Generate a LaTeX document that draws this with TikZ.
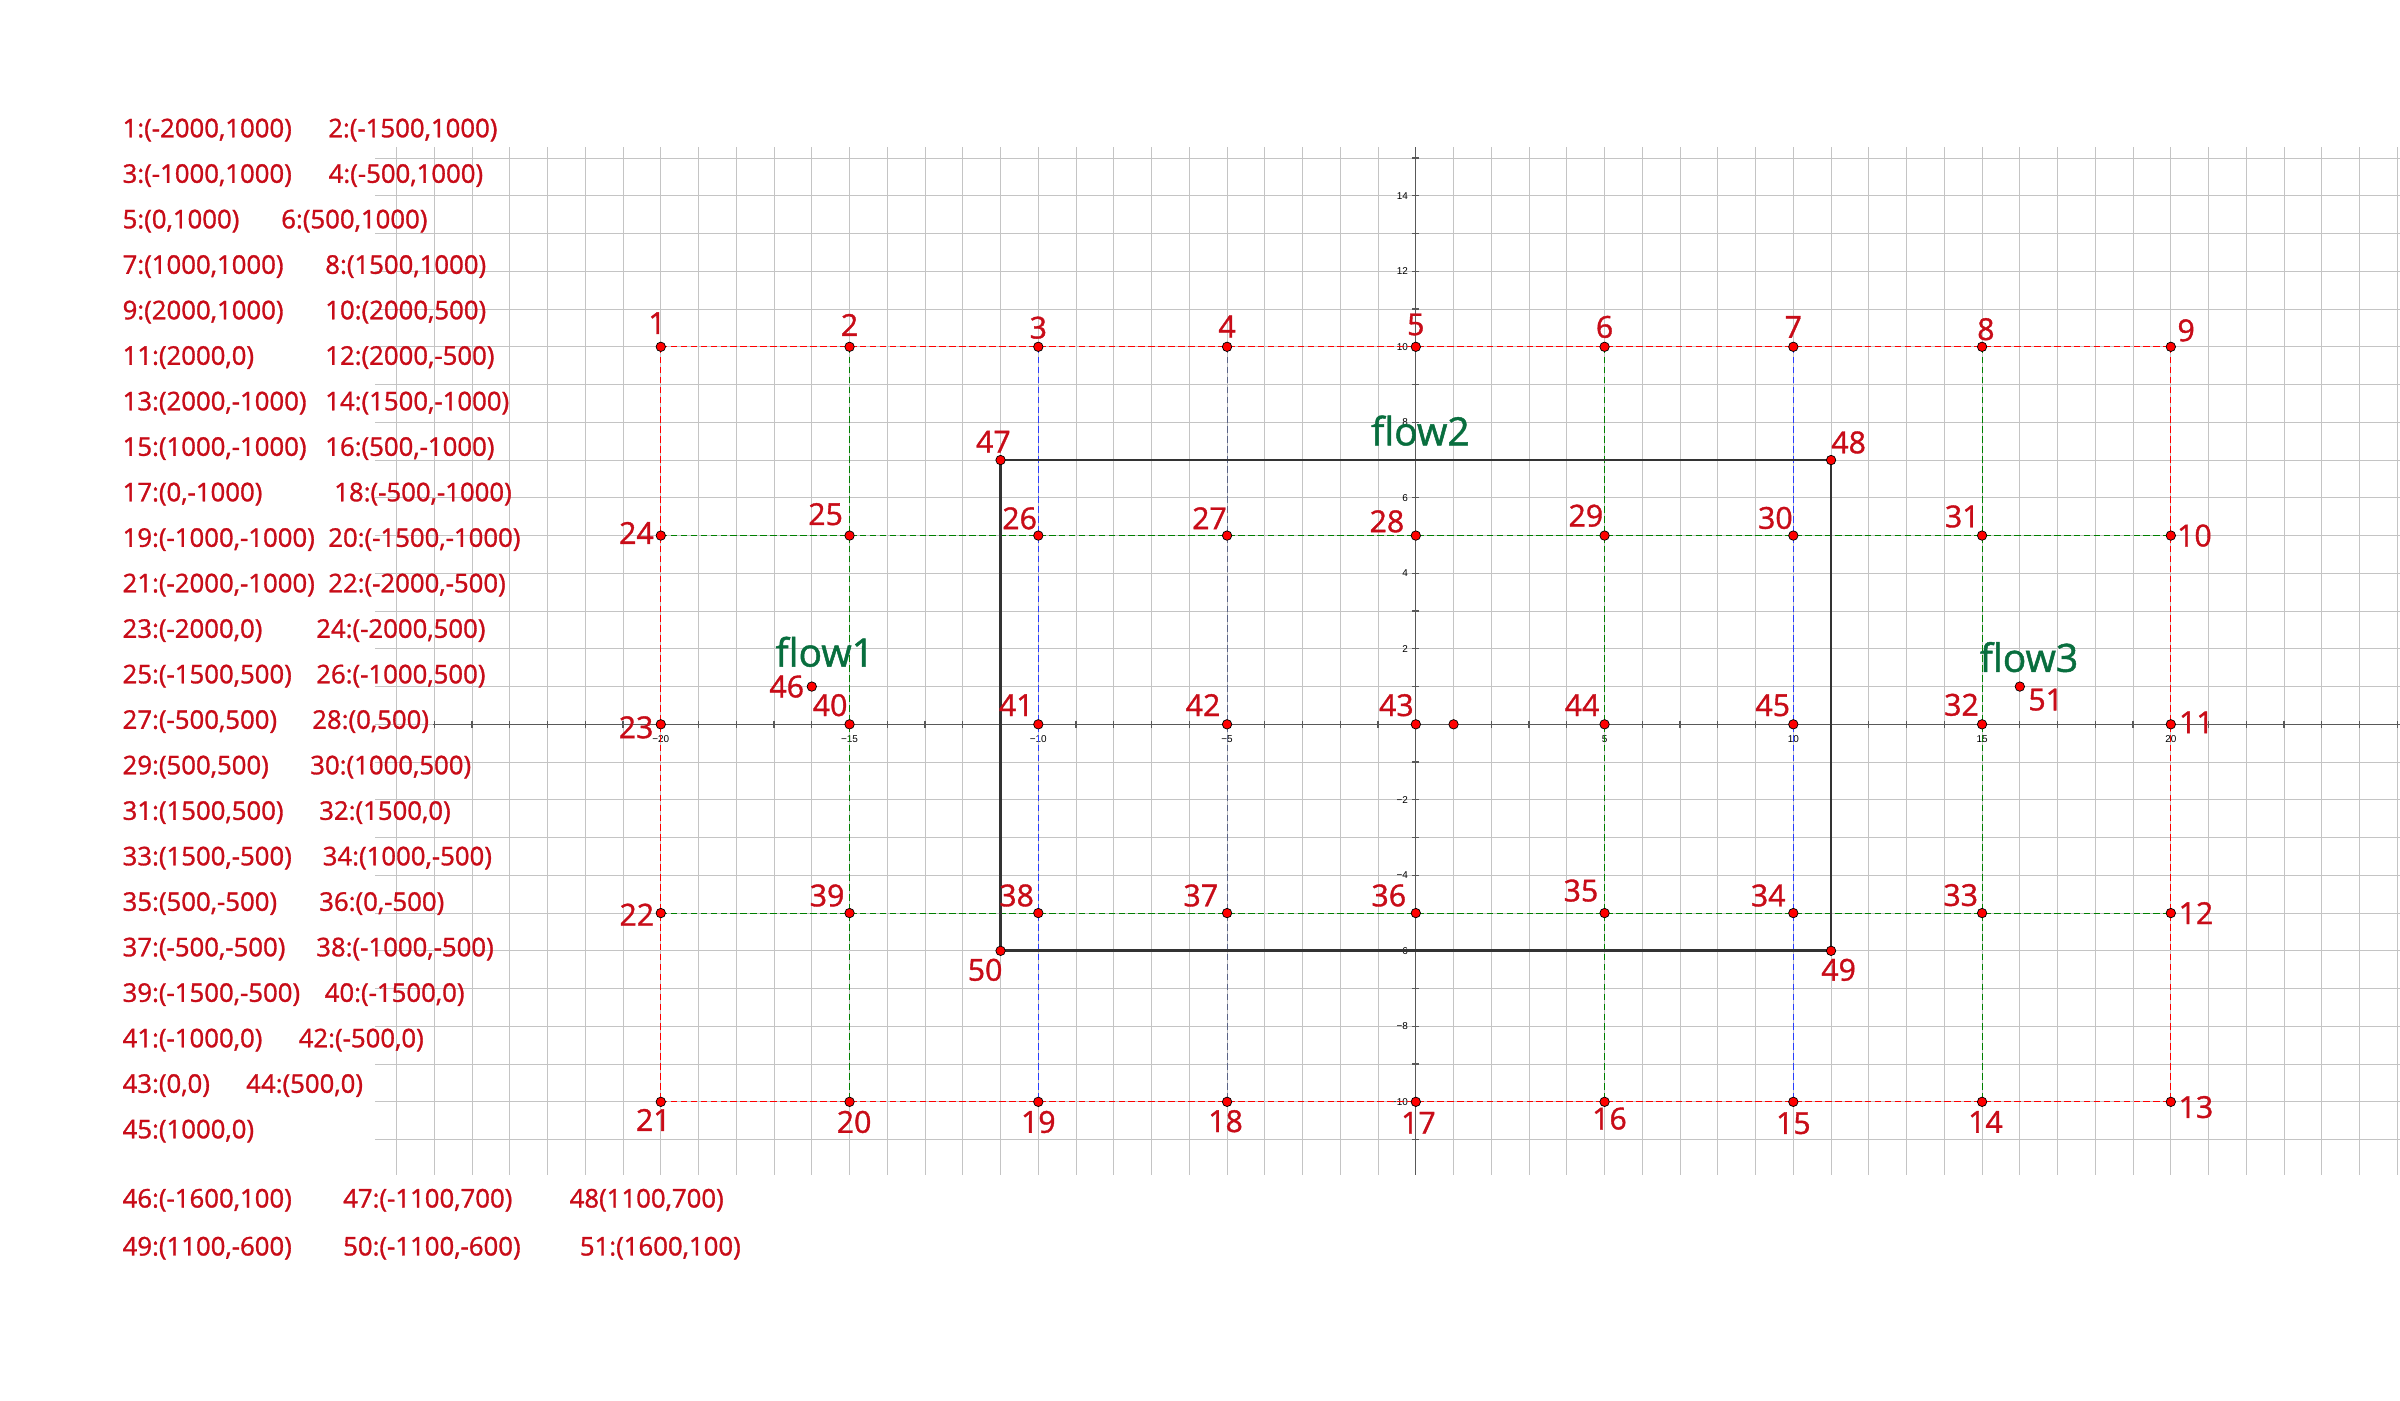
\documentclass[tikz,border=0pt]{standalone}
\usepackage{fontspec}
\setmainfont{Open Sans}
\newfontfamily\lblfont[FakeBold=1.2]{Open Sans}
\newfontfamily\tickfont{Liberation Sans}
\usetikzlibrary{calc}
\definecolor{lblred}{RGB}{200,12,24}
\definecolor{dotred}{RGB}{255,0,0}
\definecolor{flowgreen}{RGB}{8,110,62}
\definecolor{gridgray}{RGB}{196,196,196}
\definecolor{dred}{RGB}{255,0,0}
\definecolor{dgreen}{RGB}{0,128,0}
\definecolor{dblue}{RGB}{40,60,255}
\definecolor{dslate}{RGB}{90,100,135}
\tikzset{
  gridline/.style={draw=gridgray, line width=0.8pt},
  axisline/.style={draw=black!65, line width=0.9pt},
  reddash/.style={draw=dred, line width=0.8pt, dash pattern=on 5pt off 2.5pt},
  greendash/.style={draw=dgreen, line width=0.8pt, dash pattern=on 5pt off 2.5pt},
  bluedash/.style={draw=dblue, line width=0.8pt, dash pattern=on 5pt off 2.5pt},
  slatedash/.style={draw=dslate, line width=0.6pt, dash pattern=on 5pt off 2.5pt},
  rectline/.style={draw=black!80, line width=2pt},
  dot/.style={circle, fill=dotred, draw=black, line width=0.55pt, inner sep=0pt, minimum size=0.25cm},
  lbl/.style={text=lblred, font=\lblfont\fontsize{22.8}{27}\selectfont, inner sep=0pt},
  listtxt/.style={text=lblred, font=\lblfont\fontsize{19.4}{23}\selectfont, inner sep=0pt, anchor=base west},
  flowtxt/.style={text=flowgreen, font=\lblfont\fontsize{29.4}{35}\selectfont, inner sep=0pt, anchor=base west},
  ticklbl/.style={text=black, font=\tickfont\fontsize{7.5}{9}\selectfont, inner sep=0pt}
}
\begin{document}
\begin{tikzpicture}
\useasboundingbox (-37.505,-17.899) rectangle (26.071,19.187);
\fill[white] (-37.505,-17.899) rectangle (26.071,19.187);

% grid
\foreach \y in {-11,...,15} \draw[gridline] (-27.57,\y) -- (26.071,\y);
\foreach \x in {-27,...,26} \draw[gridline] (\x,-11.93) -- (\x,15.28);

% axes
\draw[axisline] (-26.04,0) -- (26.071,0);
\draw[axisline] (0,-11.93) -- (0,15.28);
\foreach \x in {-26,...,26} \draw[axisline] (\x,-0.09) -- (\x,0.09);
\foreach \y in {-11,...,15} \draw[axisline] (-0.09,\y) -- (0.09,\y);
\foreach \x/\t in {-20/−20,-15/−15,-10/−10,-5/−5,5/5,10/10,15/15,20/20}
  \node[ticklbl, anchor=center] (tx\x) at (\x,-0.40) {\t};
\foreach \y/\t in {14/14,12/12,10/10,8/8,6/6,4/4,2/2,-2/−2,-4/−4,-6/−6,-8/−8,-10/−10}
  \node[ticklbl, anchor=east] (ty\y) at (-0.2,\y) {\t};

% point coordinates
\foreach \n/\x/\y in {1/-20/10,2/-15/10,3/-10/10,4/-5/10,5/0/10,6/5/10,7/10/10,8/15/10,9/20/10,
  10/20/5,11/20/0,12/20/-5,13/20/-10,14/15/-10,15/10/-10,16/5/-10,17/0/-10,18/-5/-10,
  19/-10/-10,20/-15/-10,21/-20/-10,22/-20/-5,23/-20/0,24/-20/5,25/-15/5,26/-10/5,27/-5/5,
  28/0/5,29/5/5,30/10/5,31/15/5,32/15/0,33/15/-5,34/10/-5,35/5/-5,36/0/-5,37/-5/-5,
  38/-10/-5,39/-15/-5,40/-15/0,41/-10/0,42/-5/0,43/0/0,44/5/0,45/10/0,46/-16/1,
  47/-11/7,48/11/7,49/11/-6,50/-11/-6,51/16/1,52/1/0}
  \coordinate (c\n) at (\x,\y);

% dashed lines
\draw[reddash] (c1) -- (c9);
\draw[reddash] (c21) -- (c13);
\draw[reddash] (c1) -- (c21);
\draw[reddash] (c9) -- (c13);
\draw[greendash] (c24) -- (c10);
\draw[greendash] (c22) -- (c12);
\draw[greendash] (c2) -- (c20);
\draw[greendash] (c6) -- (c16);
\draw[greendash] (c8) -- (c14);
\draw[bluedash] (c3) -- (c19);
\draw[bluedash] (c7) -- (c15);
\draw[slatedash] (c4) -- (c18);

% rectangle
\draw[rectline] (c47) -- (c48) -- (c49) -- (c50) -- cycle;

% dots
\foreach \n in {1,...,52} \node[dot] (p\n) at (c\n) {};

% point labels
\foreach \n/\a/\dx/\dy in {1/base/-0.1/0.34, 2/base/0/0.29, 3/base/0/0.22, 4/base/0/0.25,
  5/base/0/0.31, 6/base/0/0.24, 7/base/0/0.24, 8/base/0.1/0.18, 9/base west/0.17/0.15,
  10/west/0.16/0, 11/west/0.21/0.05, 12/west/0.2/0, 13/west/0.2/-0.14,
  14/base/0.09/-0.82, 15/base/0/-0.85, 16/base/0.13/-0.73, 17/base/0.07/-0.84,
  18/base/-0.04/-0.8, 19/base/0/-0.82, 20/base/0.12/-0.82, 21/base/-0.2/-0.77,
  22/east/-0.17/-0.04, 23/east/-0.19/-0.08, 24/east/-0.18/0.07,
  25/base east/-0.17/0.28, 26/base east/-0.03/0.17, 27/base east/0/0.17,
  28/base east/-0.3/0.09, 29/base east/-0.03/0.24, 30/base east/-0.01/0.18,
  31/base east/-0.06/0.22, 32/base east/-0.08/0.23, 33/base east/-0.1/0.19,
  34/base east/-0.2/0.18, 35/base east/-0.16/0.31, 36/base east/-0.25/0.18,
  37/base east/-0.23/0.18, 38/base east/-0.11/0.18, 39/base east/-0.13/0.18,
  40/base east/-0.05/0.22, 41/base east/-0.12/0.22, 42/base east/-0.17/0.22,
  43/base east/-0.05/0.22, 44/base east/-0.13/0.22, 45/base east/-0.08/0.22,
  46/east/-0.2/0, 47/base/-0.19/0.2, 48/base west/0/0.18,
  49/base/0.2/-0.79, 50/base/-0.41/-0.79, 51/base west/0.22/-0.63}
  \node[lbl, anchor=\a] (l\n) at ($(c\n)+(\dx,\dy)$) {\n};

% flow labels
\node[flowtxt] (flow1) at (-16.97,1.53) {flow1};
\node[flowtxt] (flow2) at (-1.19,7.39) {flow2};
\node[flowtxt] (flow3) at (14.93,1.39) {flow3};

% coordinate list
\node[listtxt] (t1) at (-34.263,15.550) {1:(-2000,1000)};
\node[listtxt] (t2) at (-28.816,15.550) {2:(-1500,1000)};
\node[listtxt] (t3) at (-34.263,14.345) {3:(-1000,1000)};
\node[listtxt] (t4) at (-28.805,14.345) {4:(-500,1000)};
\node[listtxt] (t5) at (-34.263,13.139) {5:(0,1000)};
\node[listtxt] (t6) at (-30.061,13.139) {6:(500,1000)};
\node[listtxt] (t7) at (-34.263,11.934) {7:(1000,1000)};
\node[listtxt] (t8) at (-28.895,11.934) {8:(1500,1000)};
\node[listtxt] (t9) at (-34.263,10.729) {9:(2000,1000)};
\node[listtxt] (t10) at (-28.895,10.729) {10:(2000,500)};
\node[listtxt] (t11) at (-34.263,9.524) {11:(2000,0)};
\node[listtxt] (t12) at (-28.895,9.524) {12:(2000,-500)};
\node[listtxt] (t13) at (-34.263,8.318) {13:(2000,-1000)};
\node[listtxt] (t14) at (-28.895,8.318) {14:(1500,-1000)};
\node[listtxt] (t15) at (-34.263,7.113) {15:(1000,-1000)};
\node[listtxt] (t16) at (-28.895,7.113) {16:(500,-1000)};
\node[listtxt] (t17) at (-34.263,5.908) {17:(0,-1000)};
\node[listtxt] (t18) at (-28.657,5.908) {18:(-500,-1000)};
\node[listtxt] (t19) at (-34.263,4.702) {19:(-1000,-1000)};
\node[listtxt] (t20) at (-28.816,4.702) {20:(-1500,-1000)};
\node[listtxt] (t21) at (-34.263,3.497) {21:(-2000,-1000)};
\node[listtxt] (t22) at (-28.816,3.497) {22:(-2000,-500)};
\node[listtxt] (t23) at (-34.263,2.292) {23:(-2000,0)};
\node[listtxt] (t24) at (-29.134,2.292) {24:(-2000,500)};
\node[listtxt] (t25) at (-34.263,1.086) {25:(-1500,500)};
\node[listtxt] (t26) at (-29.134,1.086) {26:(-1000,500)};
\node[listtxt] (t27) at (-34.263,-0.119) {27:(-500,500)};
\node[listtxt] (t28) at (-29.240,-0.119) {28:(0,500)};
\node[listtxt] (t29) at (-34.263,-1.324) {29:(500,500)};
\node[listtxt] (t30) at (-29.293,-1.324) {30:(1000,500)};
\node[listtxt] (t31) at (-34.263,-2.530) {31:(1500,500)};
\node[listtxt] (t32) at (-29.055,-2.530) {32:(1500,0)};
\node[listtxt] (t33) at (-34.263,-3.735) {33:(1500,-500)};
\node[listtxt] (t34) at (-28.962,-3.735) {34:(1000,-500)};
\node[listtxt] (t35) at (-34.263,-4.940) {35:(500,-500)};
\node[listtxt] (t36) at (-29.055,-4.940) {36:(0,-500)};
\node[listtxt] (t37) at (-34.263,-6.145) {37:(-500,-500)};
\node[listtxt] (t38) at (-29.134,-6.145) {38:(-1000,-500)};
\node[listtxt] (t39) at (-34.263,-7.351) {39:(-1500,-500)};
\node[listtxt] (t40) at (-28.909,-7.351) {40:(-1500,0)};
\node[listtxt] (t41) at (-34.263,-8.556) {41:(-1000,0)};
\node[listtxt] (t42) at (-29.598,-8.556) {42:(-500,0)};
\node[listtxt] (t43) at (-34.263,-9.761) {43:(0,0)};
\node[listtxt] (t44) at (-30.988,-9.761) {44:(500,0)};
\node[listtxt] (t45) at (-34.263,-10.967) {45:(1000,0)};
\node[listtxt] (t46) at (-34.263,-12.80) {46:(-1600,100)};
\node[listtxt] (t47) at (-28.421,-12.80) {47:(-1100,700)};
\node[listtxt] (t48) at (-22.421,-12.80) {48(1100,700)};
\node[listtxt] (t49) at (-34.263,-14.07) {49:(1100,-600)};
\node[listtxt] (t50) at (-28.421,-14.07) {50:(-1100,-600)};
\node[listtxt] (t51) at (-22.151,-14.07) {51:(1600,100)};
\end{tikzpicture}
\end{document}
